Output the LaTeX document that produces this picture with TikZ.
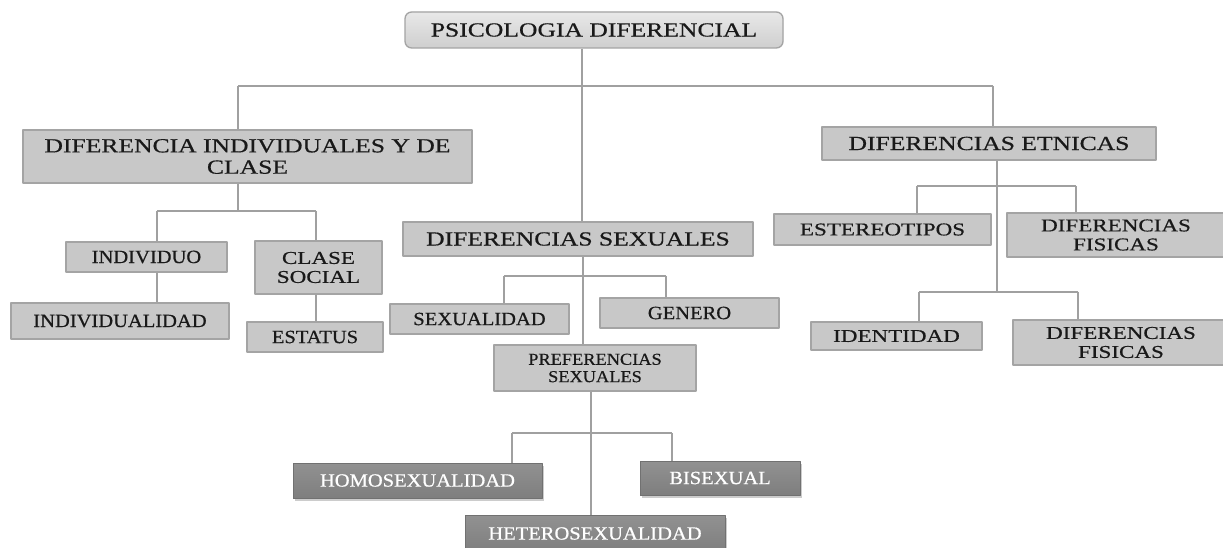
\documentclass[tikz,border=0pt]{standalone}
\usepackage{fontspec}
\setmainfont[FakeStretch=1.28,FakeBold=0.6]{Liberation Serif}
\newfontfamily\narrowserif[FakeStretch=1.1,FakeBold=0.6]{Liberation Serif}
\usetikzlibrary{shadows}
\definecolor{boxgray}{HTML}{C8C8C8}
\definecolor{boxline}{HTML}{A4A4A4}
\definecolor{darkbox}{HTML}{7E7E7E}
\definecolor{linegray}{HTML}{A0A0A0}
\tikzset{
  box/.style={draw=boxline,line width=1pt,fill=boxgray,inner sep=0pt,align=center,text=black!90},
  bigbox/.style={box,font=\fontsize{15}{16}\selectfont},
  midbox/.style={box,font=\fontsize{13.5}{14.25}\selectfont},
  smallbox/.style={box,font=\narrowserif\fontsize{14}{14}\selectfont},
  darkleaf/.style={draw=darkbox!90!black,line width=0.6pt,top color=darkbox!85,bottom color=darkbox,inner sep=0pt,
    text=white,font=\narrowserif\fontsize{14}{14}\selectfont,
    drop shadow={shadow xshift=1.5pt,shadow yshift=-2.5pt,opacity=0.4}},
  conn/.style={draw=linegray,line width=0.9pt}
}
\begin{document}
\begin{tikzpicture}[x=0.75pt,y=-0.75pt,line join=round]
\path[use as bounding box,clip] (0,0) rectangle (1223,548);
\fill[white] (0,0) rectangle (1223,548);
% raiz
\node[bigbox,rounded corners=5pt,draw=boxline,top color=gray!18,bottom color=gray!38,minimum width=283.5pt,minimum height=27pt] (root) at (594,30) {PSICOLOGIA DIFERENCIAL};
% primer nivel
\node[bigbox,minimum width=336.75pt,minimum height=39.75pt] (dic) at (247.5,156.5) {DIFERENCIA INDIVIDUALES Y DE\\CLASE};
\node[bigbox,minimum width=262.5pt,minimum height=25.5pt] (sex) at (578,239) {DIFERENCIAS SEXUALES};
\node[bigbox,minimum width=250.5pt,minimum height=24.75pt] (etn) at (989,143.5) {DIFERENCIAS ETNICAS};
% individuales y de clase
\node[smallbox,minimum width=120.75pt,minimum height=22.5pt] (ind) at (146.5,257) {INDIVIDUO};
\node[midbox,minimum width=95.25pt,minimum height=39.75pt] (cla) at (318.5,267.5) {CLASE\\SOCIAL};
\node[smallbox,minimum width=163.5pt,minimum height=27pt] (indv) at (120,321) {INDIVIDUALIDAD};
\node[smallbox,minimum width=102pt,minimum height=22.5pt] (est) at (315,337) {ESTATUS};
% sexuales
\node[smallbox,minimum width=134.25pt,minimum height=22.5pt] (sxl) at (479.5,319) {SEXUALIDAD};
\node[smallbox,minimum width=134.25pt,minimum height=22.5pt] (gen) at (689.5,313) {GENERO};
\node[smallbox,font=\narrowserif\fontsize{12.5}{13}\selectfont,minimum width=151.5pt,minimum height=34.5pt] (pref) at (595,368) {PREFERENCIAS\\SEXUALES};
\node[darkleaf,minimum width=186.75pt,minimum height=26.25pt] (homo) at (417.5,480.5) {HOMOSEXUALIDAD};
\node[darkleaf,minimum width=120pt,minimum height=25.5pt] (bis) at (720,478) {BISEXUAL};
\node[darkleaf,minimum width=195pt,minimum height=27.75pt] (het) at (595,533.5) {HETEROSEXUALIDAD};
% etnicas
\node[midbox,minimum width=162.75pt,minimum height=23.25pt] (ste) at (882.5,229.5) {ESTEREOTIPOS};
\node[midbox,minimum width=163.5pt,minimum height=33pt] (fis1) at (1116,235) {DIFERENCIAS\\FISICAS};
\node[midbox,minimum width=128.25pt,minimum height=21pt] (iden) at (896.5,336) {IDENTIDAD};
\node[midbox,minimum width=162pt,minimum height=33.75pt] (fis2) at (1121,342.5) {DIFERENCIAS\\FISICAS};
% uniones
\coordinate (t0) at (582,86); \coordinate (tl) at (238,86); \coordinate (tr) at (993,86);
\coordinate (d0) at (238,211); \coordinate (dl) at (157,211); \coordinate (dr) at (316,211);
\coordinate (s0) at (583,276); \coordinate (sl) at (504,276); \coordinate (sr) at (666,276);
\coordinate (p0) at (591,433); \coordinate (pl) at (512,433); \coordinate (pr) at (672,433);
\coordinate (e0) at (997,292);
\coordinate (e1l) at (917,186); \coordinate (e1r) at (1076,186);
\coordinate (e2l) at (919,292); \coordinate (e2r) at (1078,292);
\draw[conn] (tl)--(tr) (root.south -| t0)--(sex.north -| t0)
  (tl)--(tl |- dic.north) (tr)--(tr |- etn.north);
\draw[conn] (dic.south -| d0)--(d0) (dl)--(dr) (dl)--(dl |- ind.north) (dr)--(dr |- cla.north)
  (ind.south -| dl)--(indv.north -| dl) (cla.south -| dr)--(est.north -| dr);
\draw[conn] (sex.south -| s0)--(pref.north -| s0) (sl)--(sr) (sl)--(sl |- sxl.north) (sr)--(sr |- gen.north);
\draw[conn] (pref.south -| p0)--(het.north -| p0) (pl)--(pr) (pl)--(pl |- homo.north) (pr)--(pr |- bis.north);
\draw[conn] (etn.south -| e0)--(e0) (e1l)--(e1r) (e2l)--(e2r)
  (e1l)--(e1l |- ste.north) (e1r)--(e1r |- fis1.north)
  (e2l)--(e2l |- iden.north) (e2r)--(e2r |- fis2.north);
\end{tikzpicture}
\end{document}
